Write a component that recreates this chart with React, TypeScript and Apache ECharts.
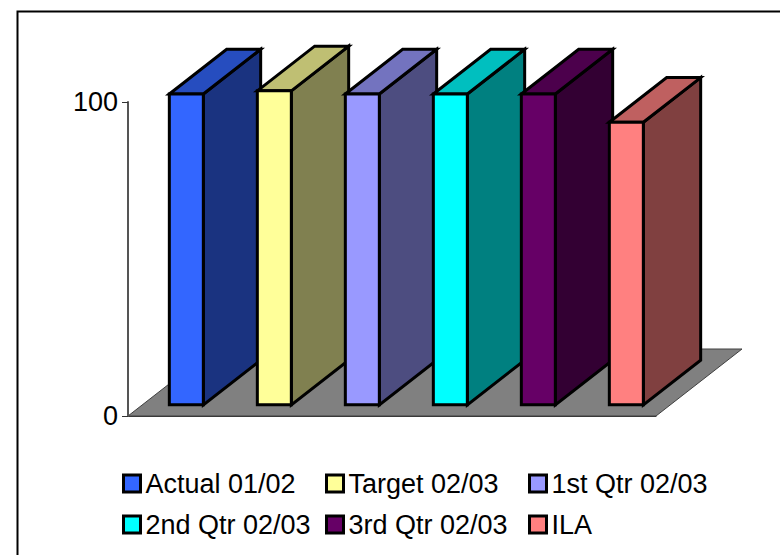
import React, { useEffect, useRef } from "react";
import * as echarts from "echarts";

const categories = ["Actual 01/02", "Target 02/03", "1st Qtr 02/03", "2nd Qtr 02/03", "3rd Qtr 02/03", "ILA"];
const values = [99, 100, 99, 99, 99, 90];
const frontColors = ["#3366FF", "#FFFF99", "#9999FF", "#00FFFF", "#660066", "#FF8080"];
const topColors = ["#264DBF", "#BFBF73", "#7373BF", "#00BFBF", "#4C004C", "#BF6060"];
const sideColors = ["#1A3380", "#808050", "#4D4D80", "#008080", "#330033", "#804040"];
const yTicks = { min: 0, max: 100, interval: 100 };

// Oblique projection of the depth axis, in pixels.
const DEPTH_X = 86;
const DEPTH_Y = -67;
const BAR_DEPTH_START = 1 / 6;
const BAR_DEPTH_END = 5 / 6;
const BAR_WIDTH = 34;
const FONT = "'Liberation Sans', Arial, sans-serif";
const FONT_SIZE = 27;

function renderFloor(params: any) {
  const { x, y, width, height } = params.coordSys;
  const base = y + height;
  return {
    type: "polygon",
    shape: {
      points: [
        [x, base],
        [x + width, base],
        [x + width + DEPTH_X, base + DEPTH_Y],
        [x + DEPTH_X, base + DEPTH_Y],
      ],
    },
    style: { fill: "#808080", stroke: "#404040", lineWidth: 1 },
    silent: true,
  };
}

function renderBar(index: number) {
  return (_params: any, api: any) => {
    const [cx, topY] = api.coord([api.value(0), api.value(1)]);
    const [, baseY] = api.coord([api.value(0), 0]);
    const ox = DEPTH_X * BAR_DEPTH_START;
    const oy = DEPTH_Y * BAR_DEPTH_START;
    const dx = DEPTH_X * (BAR_DEPTH_END - BAR_DEPTH_START);
    const dy = DEPTH_Y * (BAR_DEPTH_END - BAR_DEPTH_START);
    const l = cx + ox - BAR_WIDTH / 2;
    const r = l + BAR_WIDTH;
    const t = topY + oy;
    const b = baseY + oy;
    const line = { stroke: "#000", lineWidth: 3, lineJoin: "miter" };
    return {
      type: "group",
      children: [
        {
          type: "polygon",
          shape: { points: [[r, t], [r + dx, t + dy], [r + dx, b + dy], [r, b]] },
          style: { fill: sideColors[index], ...line },
        },
        {
          type: "polygon",
          shape: { points: [[l, t], [l + dx, t + dy], [r + dx, t + dy], [r, t]] },
          style: { fill: topColors[index], ...line },
        },
        {
          type: "polygon",
          shape: { points: [[l, t], [r, t], [r, b], [l, b]] },
          style: { fill: frontColors[index], ...line },
        },
      ],
    };
  };
}

// Legend columns share their left edges, so each column is its own legend.
function legendColumn(left: number, names: string[]) {
  return {
    left,
    top: 470,
    orient: "vertical" as const,
    data: names,
    icon: "rect",
    itemWidth: 17,
    itemHeight: 17,
    itemGap: 14,
    selectedMode: false,
    padding: 0,
    itemStyle: { borderColor: "#000", borderWidth: 3 },
    textStyle: { fontFamily: FONT, fontSize: FONT_SIZE, color: "#000" },
  };
}

export default function App() {
  const ref = useRef<HTMLDivElement>(null);

  useEffect(() => {
    const chart = echarts.init(ref.current!, undefined, { renderer: "svg" });
    chart.setOption({
      animation: false,
      backgroundColor: "#fff",
      graphic: [
        {
          type: "polyline",
          silent: true,
          shape: { points: [[17.5, 555], [17.5, 11.5], [780, 11.5]] },
          style: { fill: "none", stroke: "#000", lineWidth: 2 },
        },
      ],
      legend: [
        legendColumn(122, [categories[0], categories[3]]),
        legendColumn(325, [categories[1], categories[4]]),
        legendColumn(528, [categories[2], categories[5]]),
      ],
      grid: { left: 128, top: 102, width: 528, height: 314, containLabel: false },
      xAxis: {
        type: "category",
        data: categories,
        axisLine: { show: true, onZero: false, lineStyle: { color: "#333", width: 1 } },
        axisTick: { show: false },
        axisLabel: { show: false },
        splitLine: { show: false },
      },
      yAxis: {
        type: "value",
        min: yTicks.min,
        max: yTicks.max,
        interval: yTicks.interval,
        z: 5,
        axisLine: { show: true, onZero: false, lineStyle: { color: "#555", width: 2 } },
        axisTick: { show: true, length: 6, lineStyle: { color: "#333", width: 1 } },
        axisLabel: { margin: 10, fontFamily: FONT, fontSize: FONT_SIZE, color: "#000", padding: [0, 0, 2, 0] },
        splitLine: { show: false },
      },
      series: [
        {
          type: "custom",
          name: "floor",
          renderItem: renderFloor,
          data: [[0, 0]],
          silent: true,
          z: 1,
        },
        ...categories.map((name, i) => ({
          type: "custom",
          name,
          renderItem: renderBar(i),
          data: [[i, values[i]]],
          encode: { x: 0, y: 1 },
          itemStyle: { color: frontColors[i] },
          z: 2,
        })),
      ],
    });
    return () => chart.dispose();
  }, []);

  return (
    <div
      ref={ref}
      style={{ position: "fixed", left: 0, top: 0, width: 780, height: 555 }}
    />
  );
}
